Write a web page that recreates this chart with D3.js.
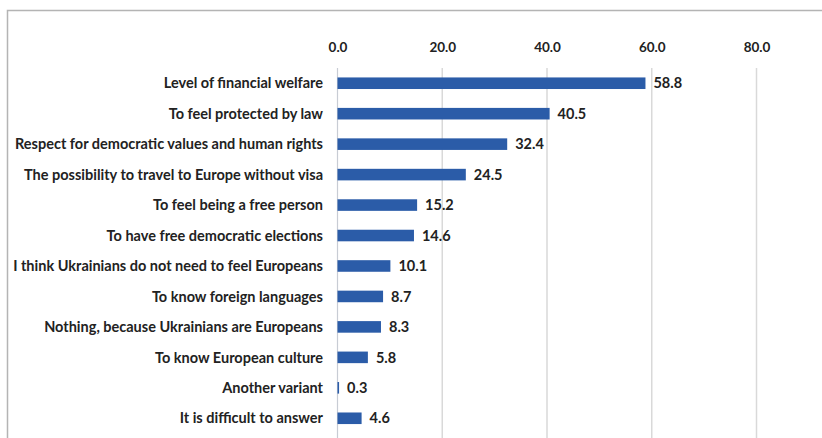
<!DOCTYPE html>
<html>
<head>
<meta charset="utf-8">
<script src="https://cdn.jsdelivr.net/npm/d3@7/dist/d3.min.js"></script>
<style>
  html, body { margin: 0; padding: 0; background: #fff; }
  svg { display: block; }
  text { font-family: Lato, "Open Sans", sans-serif; font-weight: 700; fill: #222; }
</style>
</head>
<body>
<svg id="chart" width="822" height="438"></svg>
<script>
// Survey answers: what Ukrainians need to feel Europeans (%)
const categories = [
  "Level of financial welfare",
  "To feel protected by law",
  "Respect for democratic values and human rights",
  "The possibility to travel to Europe without visa",
  "To feel being a free person",
  "To have free democratic elections",
  "I think Ukrainians do not need to feel Europeans",
  "To know foreign languages",
  "Nothing, because Ukrainians are Europeans",
  "To know European culture",
  "Another variant",
  "It is difficult to answer"
];
const values = [58.8, 40.5, 32.4, 24.5, 15.2, 14.6, 10.1, 8.7, 8.3, 5.8, 0.3, 4.6];
const tickValues = [0, 20, 40, 60, 80];

const svg = d3.select("#chart");
const W = 822, H = 438;

// outer frame (top and left edges visible)
svg.append("path")
  .attr("d", `M7.5,${H} V10.5 H${W}`)
  .attr("fill", "none")
  .attr("stroke", "#b4b4b4")
  .attr("stroke-width", 1.5);

const x = d3.scaleLinear().domain([0, 80]).range([337.5, 756.5]);
const y = d3.scaleBand().domain(categories).range([68, 433.5]).paddingInner(0.62).paddingOuter(0.31);

// vertical gridlines
svg.append("g").selectAll("line")
  .data(tickValues.slice(1))
  .join("line")
  .attr("x1", d => x(d)).attr("x2", d => x(d))
  .attr("y1", 68).attr("y2", H)
  .attr("stroke", "#d9d9d9")
  .attr("stroke-width", 1.5);

// top axis labels
const axis = d3.axisTop(x).tickValues(tickValues).tickFormat(d3.format(".1f")).tickSize(0).tickPadding(0);
const gAxis = svg.append("g").attr("transform", "translate(0,52)").call(axis);
gAxis.select(".domain").remove();
gAxis.selectAll("text")
  .attr("font-family", "Lato, 'Open Sans', sans-serif")
  .attr("font-weight", 700)
  .attr("font-size", 13.5)
  .attr("fill", "#222");

// zero baseline
svg.append("line")
  .attr("x1", x(0)).attr("x2", x(0))
  .attr("y1", 68).attr("y2", H)
  .attr("stroke", "#c8ccd4")
  .attr("stroke-width", 1.2);

// bars
svg.append("g").selectAll("rect")
  .data(values)
  .join("rect")
  .attr("x", x(0))
  .attr("y", (d, i) => y(categories[i]))
  .attr("width", d => x(d) - x(0))
  .attr("height", y.bandwidth())
  .attr("fill", "#2b5ca8");

// value labels
svg.append("g").selectAll("text")
  .data(values)
  .join("text")
  .attr("x", d => x(d) + 8)
  .attr("y", (d, i) => y(categories[i]) + y.bandwidth() / 2)
  .attr("dy", "0.36em")
  .attr("font-size", 14.5)
  .text(d => d3.format(".1f")(d));

// category labels
svg.append("g").selectAll("text")
  .data(categories)
  .join("text")
  .attr("x", 323)
  .attr("y", d => y(d) + y.bandwidth() / 2)
  .attr("dy", "0.36em")
  .attr("text-anchor", "end")
  .attr("font-size", 14.5)
  .text(d => d);
</script>
</body>
</html>
